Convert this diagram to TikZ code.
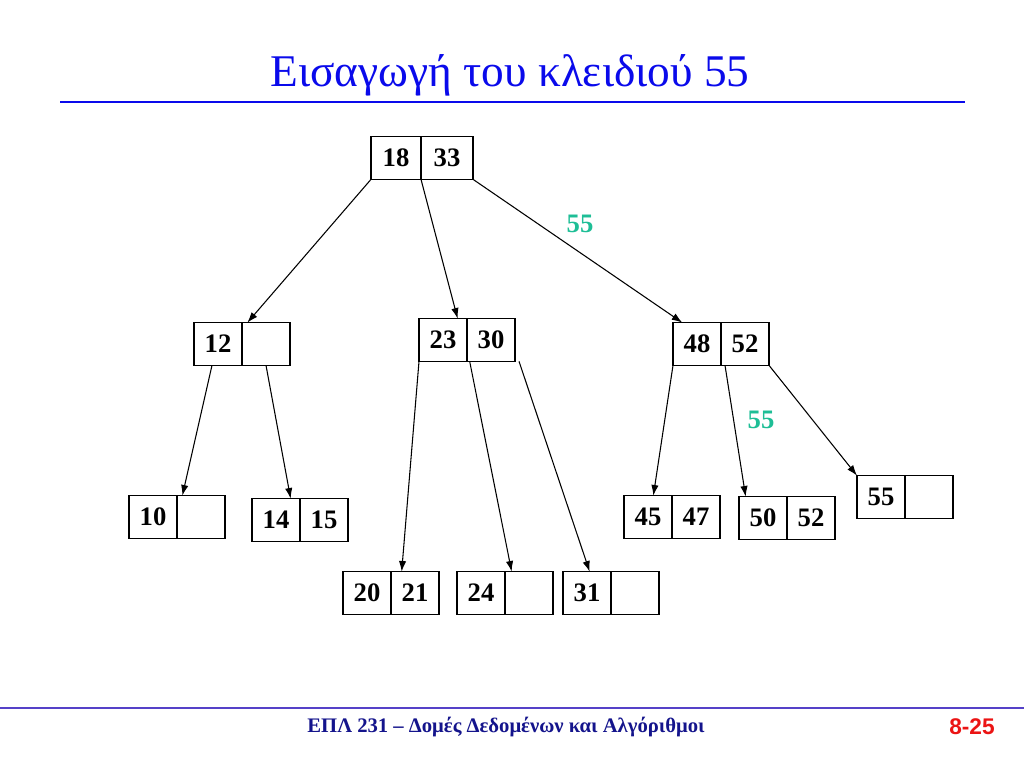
\documentclass[tikz,border=0pt]{standalone}
\usepackage{fontspec}
\setmainfont{Liberation Serif}
\setsansfont{Liberation Sans}
\usepackage{tikz}
\usetikzlibrary{arrows.meta,positioning,calc}
\definecolor{titleblue}{RGB}{10,10,235}
\definecolor{footblue}{RGB}{20,20,140}
\definecolor{rulepurple}{RGB}{85,65,200}
\definecolor{keyteal}{RGB}{30,190,150}
\definecolor{pagered}{RGB}{235,20,20}

\begin{document}
\begin{tikzpicture}[
  x=0.75pt, y=-0.75pt,
  >=Latex,
  every node/.style={font=\bfseries\fontsize{20}{22}\selectfont},
  cell/.style={draw, minimum width=36pt, minimum height=32pt, inner sep=0pt, outer sep=0pt, line width=0.8pt},
  hot/.style={cell, line width=1.2pt},
  link/.style={-{Latex[length=8pt,width=5.5pt]}, line width=0.8pt},
  newkey/.style={text=keyteal}
]
\useasboundingbox (0,0) rectangle (1024,768);

% title and rules
\node[font=\fontsize{34}{38}\selectfont, text=titleblue] (title) at (510,75) {Εισαγωγή του κλειδιού 55};
\draw[titleblue, line width=1.5pt] (60,102) -- (965,102);
\draw[rulepurple, line width=1.5pt] (0,708) -- (1024,708);
\node[font=\bfseries\fontsize{15.5}{17}\selectfont, text=footblue] (foot) at (506,727) {ΕΠΛ 231 – Δομές Δεδομένων και Αλγόριθμοι};
\node[font=\sffamily\bfseries\fontsize{17}{19}\selectfont, text=pagered] (page) at (972,727) {8-25};

% root
\node[cell, minimum width=37.5pt] (rootl) at (396,158) {18};
\node[cell, minimum width=39pt, right=0pt of rootl] (rootr) {33};

% level 1
\node[cell] (n12l) at (218,344) {12};
\node[cell, right=0pt of n12l] (n12r) {};
\node[cell] (n23l) at (443,340) {23};
\node[cell, right=0pt of n23l] (n23r) {30};
\node[hot] (n48l) at (697,344) {48};
\node[hot, right=0pt of n48l] (n48r) {52};

% leaves
\node[cell] (n10l) at (153,517) {10};
\node[cell, right=0pt of n10l] (n10r) {};
\node[cell] (n14l) at (276,520) {14};
\node[cell, right=0pt of n14l] (n14r) {15};
\node[cell] (n20l) at (367,593) {20};
\node[cell, right=0pt of n20l] (n20r) {21};
\node[cell] (n24l) at (481,593) {24};
\node[cell, right=0pt of n24l] (n24r) {};
\node[cell] (n31l) at (587,593) {31};
\node[cell, right=0pt of n31l] (n31r) {};
\node[cell] (n45l) at (648,517) {45};
\node[cell, right=0pt of n45l] (n45r) {47};
\node[hot] (n50l) at (763,518) {50};
\node[hot, right=0pt of n50l] (n50r) {52};
\node[cell] (n55l) at (881,497) {55};
\node[cell, right=0pt of n55l] (n55r) {};

% new key on its way down
\node[newkey] (ins1) at (580,224) {55};
\node[newkey] (ins2) at (761,420) {55};

% links
\draw[link] (rootl.south west) -- ([xshift=4pt]n12l.north east);
\draw[link] (rootl.south east) -- ([xshift=-7pt]n23l.north east);
\draw[link] (rootr.south east) -- ([xshift=7pt]n48l.north west);
\draw[link] ([xshift=-4.5pt]n12l.south) -- ([xshift=4pt]n10l.north east);
\draw[link] (n12r.south) -- ([xshift=-7pt]n14l.north east);
\draw[link] (n23l.south west) -- ([xshift=8pt]n20l.north east);
\draw[link] ([xshift=2pt]n23l.south east) -- ([xshift=5pt]n24r.north west);
\draw[link] ([xshift=3pt]n23r.south east) -- ([xshift=2pt]n31l.north);
\draw[link] (n48l.south west) -- ([xshift=4pt]n45l.north);
\draw[link] ([xshift=3pt]n48l.south east) -- ([xshift=5pt]n50l.north west);
\draw[link] (n48r.south east) -- (n55l.north west);

\end{tikzpicture}
\end{document}
